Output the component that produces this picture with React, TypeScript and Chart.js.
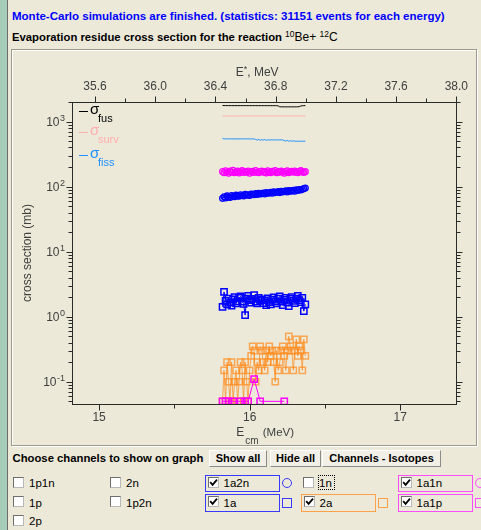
import React, { useEffect, useRef } from 'react';
import { Chart, registerables } from 'chart.js';

Chart.register(...registerables);

const FONT = '"Liberation Sans", Arial, Helvetica, sans-serif';
Chart.defaults.font.family = FONT;

// centre-of-mass energies of the simulated points (MeV)
const energies = [
  15.82, 15.83, 15.84, 15.85, 15.86, 15.87, 15.88, 15.89, 15.9, 15.91, 15.92, 15.93, 15.94, 15.95,
  15.96, 15.97, 15.98, 15.99, 16.0, 16.01, 16.02, 16.03, 16.04, 16.05, 16.06, 16.07, 16.08, 16.09,
  16.1, 16.11, 16.12, 16.13, 16.14, 16.15, 16.16, 16.17, 16.18, 16.19, 16.2, 16.21, 16.22, 16.23,
  16.24, 16.25, 16.26, 16.27, 16.28, 16.29, 16.3, 16.31, 16.32, 16.33, 16.34, 16.35, 16.36, 16.37,
];

// excitation energy E* = Ecm + Q (MeV)
const qValue = 20.627;

// total fusion, survival and fission cross sections (mb)
const sigmaFus = [
  1765, 1762, 1762, 1760, 1761, 1760, 1760, 1759, 1760, 1760, 1759, 1760, 1760, 1759,
  1760, 1759, 1760, 1759, 1760, 1759, 1759, 1760, 1758, 1759, 1758, 1759, 1758, 1758,
  1759, 1758, 1757, 1758, 1757, 1757, 1758, 1756, 1757, 1740, 1688, 1685, 1685, 1684,
  1685, 1684, 1685, 1684, 1684, 1685, 1684, 1684, 1685, 1700, 1735, 1752, 1758, 1760,
];
const sigmaSurv = [
  1226, 1210, 1224, 1214, 1225, 1224, 1212, 1225, 1208, 1224, 1218, 1225, 1224, 1225,
  1224, 1225, 1224, 1225, 1224, 1225, 1224, 1225, 1224, 1225, 1224, 1225, 1224, 1225,
  1224, 1225, 1224, 1225, 1224, 1225, 1224, 1225, 1224, 1225, 1224, 1225, 1224, 1225,
  1224, 1225, 1224, 1225, 1224, 1225, 1224, 1225, 1224, 1225, 1224, 1225, 1224, 1225,
];
const sigmaFiss = [
  552, 542, 542, 541, 542, 542, 541, 542, 542, 541, 542, 542, 541, 542,
  542, 541, 542, 542, 541, 542, 542, 541, 530, 520, 535, 515, 528, 518,
  530, 515, 525, 520, 523, 523, 522, 523, 523, 522, 523, 523, 522, 510,
  500, 515, 498, 508, 500, 505, 500, 499, 499, 499, 498, 499, 499, 498,
];

// evaporation channels (mb); null = no events in that channel
const alpha2n = [
  66, 70, 67, 72, 69, 68, 73, 71, 70, 74, 72, 71, 75, 73,
  72, 76, 74, 75, 73, 77, 76, 75, 78, 76, 79, 77, 78, 80,
  77, 81, 79, 80, 82, 79, 83, 81, 82, 84, 81, 85, 83, 84,
  86, 83, 87, 85, 86, 88, 85, 89, 87, 90, 89, 91, 93, 95,
];
const alpha1n = [
  171, 163, 175, 168, 161, 173, 166, 178, 164, 170, 173, 162, 169, 176,
  165, 171, 167, 174, 161, 169, 172, 165, 177, 168, 163, 171, 174, 166,
  170, 162, 175, 168, 164, 172, 169, 177, 163, 170, 166, 173, 168, 161,
  171, 175, 164, 169, 172, 166, 174, 167, 163, 171, 176, 168, 165, 170,
];
const alpha = [
  1.42, 2.4, 1.75, 1.55, 1.9, 1.65, 1.48, 1.85, 2.0, 1.6, 1.72, 1.95, 2.05, 1.7,
  1.58, 1.06, 1.9, 2.1, 1.8, 1.65, 1.88, 2.15, 1.7, 1.6, 1.95, 1.75, 1.85, 1.62,
  1.78, 1.5, 1.92, 1.68, 1.55, 1.83, 1.98, 1.72, 1.6, 1.9, 2.05, 1.7, 1.5, 1.82,
  1.95, 1.65, 1.45, 1.88, 2.0, 1.75, 1.62, 1.9, 2.1, 1.8, 1.68, 1.95, 1.22, 1.55,
];
const twoAlpha = [
  0.05, 0.15, 0.05, 0.2, 0.1, 0.05, 0.2, 0.05, 0.1, 0.15, 0.05, 0.1, 0.2, 0.15,
  0.05, 0.2, 0.1, 0.05, 0.15, 0.25, 0.35, 0.3, 0.1, 0.2, 0.15, 0.35, 0.3, 0.2,
  0.15, 0.3, 0.2, 0.35, 0.25, 0.3, 0.2, 0.1, 0.3, 0.15, 0.2, 0.3, 0.35, 0.25,
  0.15, 0.3, 0.5, 0.35, 0.3, 0.15, 0.3, 0.45, 0.25, 0.35, 0.3, 0.15, 0.45, 0.25,
];
const alpha1p = [
  0.05, null, 0.05, null, 0.05, null, null, 0.05, null, null, null, null, 0.05, null,
  null, 0.05, null, 0.05, null, null, null, 0.11, null, null, null, 0.05, null, null,
  null, null, null, null, null, null, null, null, null, null, null, null, null, 0.05,
  null, null, null, null, null, null, null, null, null, null, null, null, null, null,
];

// axis ticks
const bottomTicks = [15, 16, 17];
const bottomTickLabels = ['15', '16', '17'];
const bottomMinorTicks = [15.5, 16.5];
const topTicks = [35.6, 36.0, 36.4, 36.8, 37.2, 37.6, 38.0];
const topTickLabels = ['35.6', '36.0', '36.4', '36.8', '37.2', '37.6', '38.0'];
const topMinorTicks = [35.8, 36.2, 36.6, 37.0, 37.4, 37.8];
const yDecades = [-1, 0, 1, 2, 3];
const yTickBase = '10';
const yTickExponents = ['-1', '0', '1', '2', '3'];
const yMinorDecades = [-2, -1, 0, 1, 2, 3];
const yMinorMultipliers = [2, 3, 4, 5, 6, 7, 8, 9];

// sigma legend
const sigmaNames = ['fus', 'surv', 'fiss'];
const sigmaColors = ['#000000', '#FFAFAF', '#1E90FF'];

const BLUE = '#0000FF';
const MAGENTA = '#FF00FF';
const ORANGE = 'rgba(255,140,30,0.72)';
const AXIS = '#2a2a2a';
const LABEL = '#404040';

const pts = (vals: (number | null)[]) => energies.map((e, i) => ({ x: e, y: vals[i] }));

const decorPlugin = {
  id: 'decor',
  afterDraw(chart: any) {
    const { ctx, chartArea: a } = chart;
    const xs = chart.scales.x;
    const xt = chart.scales.xTop;
    const ys = chart.scales.y;
    const L = Math.round(a.left) + 0.5;
    const R = Math.round(a.right) + 0.5;
    const T = Math.round(a.top) + 0.5;
    const B = Math.round(a.bottom) + 0.5;
    const px = (s: any, v: number) => Math.round(s.getPixelForValue(v)) + 0.5;
    const seg = (x1: number, y1: number, x2: number, y2: number) => {
      ctx.beginPath();
      ctx.moveTo(x1, y1);
      ctx.lineTo(x2, y2);
      ctx.stroke();
    };
    ctx.save();
    ctx.strokeStyle = AXIS;
    ctx.lineWidth = 1;
    ctx.strokeRect(L, T, R - L, B - T);

    bottomTicks.forEach((v) => { const x = px(xs, v); seg(x, B, x, B + 6); });
    bottomMinorTicks.forEach((v) => { const x = px(xs, v); seg(x, B, x, B + 4); });
    topTicks.forEach((v) => { const x = px(xt, v); seg(x, T, x, T - 6); });
    topMinorTicks.forEach((v) => { const x = px(xt, v); seg(x, T, x, T - 4); });
    yDecades.forEach((n) => {
      const y = px(ys, Math.pow(10, n));
      seg(L - 6, y, L, y);
      seg(R, y, R + 6, y);
    });
    yMinorDecades.forEach((n) => {
      yMinorMultipliers.forEach((m) => {
        const v = m * Math.pow(10, n);
        if (v < ys.min || v > ys.max * 1.001) return;
        const y = px(ys, v);
        seg(L - 4, y, L, y);
        seg(R, y, R + 4, y);
      });
    });

    // decade labels 10^n
    ctx.fillStyle = LABEL;
    ctx.textBaseline = 'alphabetic';
    ctx.textAlign = 'right';
    yDecades.forEach((n, k) => {
      const y = ys.getPixelForValue(Math.pow(10, n));
      const xr = L - 7.5;
      ctx.font = `9px ${FONT}`;
      const ew = ctx.measureText(yTickExponents[k]).width;
      ctx.fillText(yTickExponents[k], xr, y - 0.5);
      ctx.font = `12px ${FONT}`;
      ctx.fillText(yTickBase, xr - ew - 0.5, y + 4.3);
    });

    // bottom axis title E_cm (MeV)
    ctx.textAlign = 'left';
    const cx = (a.left + a.right) / 2 + 1;
    const by = a.bottom + 32;
    ctx.font = `12px ${FONT}`;
    const wE = ctx.measureText('E').width;
    ctx.font = `10px ${FONT}`;
    const wCm = ctx.measureText('cm').width;
    ctx.font = `11.5px ${FONT}`;
    const wU = ctx.measureText(' (MeV)').width;
    let x0 = cx - (wE + wCm + 2 + wU) / 2;
    ctx.font = `12px ${FONT}`;
    ctx.fillText('E', x0, by);
    ctx.font = `10px ${FONT}`;
    ctx.fillText('cm', x0 + wE + 1, by + 8);
    ctx.font = `11.5px ${FONT}`;
    ctx.fillText(' (MeV)', x0 + wE + wCm + 2, by);

    // top axis title E*, MeV
    const tcx = (a.left + a.right) / 2 - 7;
    const ty = a.top - 26;
    ctx.font = `12px ${FONT}`;
    const wE2 = ctx.measureText('E').width;
    ctx.font = `9px ${FONT}`;
    const wStar = ctx.measureText('*').width;
    ctx.font = `12px ${FONT}`;
    const wRest = ctx.measureText(', MeV').width;
    x0 = tcx - (wE2 + wStar + wRest) / 2;
    ctx.fillText('E', x0, ty);
    ctx.font = `9px ${FONT}`;
    ctx.fillText('*', x0 + wE2, ty - 4);
    ctx.font = `12px ${FONT}`;
    ctx.fillText(', MeV', x0 + wE2 + wStar, ty);

    // sigma legend
    const lineYs = [9, 30, 53];
    sigmaNames.forEach((name, k) => {
      const ly = Math.round(a.top + lineYs[k]) + 0.5;
      ctx.strokeStyle = sigmaColors[k];
      ctx.fillStyle = sigmaColors[k];
      seg(a.left + 7, ly, a.left + 16, ly);
      ctx.font = `15px ${FONT}`;
      ctx.fillText('\u03C3', a.left + 18, ly + 2.5);
      ctx.font = `11px ${FONT}`;
      ctx.fillText(name, a.left + 26, ly + 10);
    });
    ctx.restore();
  },
};

function ChartPanel() {
  const ref = useRef<HTMLCanvasElement | null>(null);
  useEffect(() => {
    if (!ref.current) return;
    const hollow = 'rgba(0,0,0,0)';
    const chart = new Chart(ref.current, {
      type: 'line',
      data: {
        datasets: [
          { label: 'sigma fus', data: pts(sigmaFus), borderColor: sigmaColors[0], borderWidth: 1, pointRadius: 0 },
          { label: 'sigma surv', data: pts(sigmaSurv), borderColor: sigmaColors[1], borderWidth: 1, pointRadius: 0 },
          { label: 'sigma fiss', data: pts(sigmaFiss), borderColor: sigmaColors[2], borderWidth: 1, pointRadius: 0 },
          {
            label: '1a1n', data: pts(alpha1n), borderColor: MAGENTA, borderWidth: 1,
            pointStyle: 'circle', pointRadius: 2.9, pointBorderWidth: 1.3, pointBackgroundColor: hollow,
          },
          {
            label: '1a2n', data: pts(alpha2n), borderColor: BLUE, borderWidth: 1,
            pointStyle: 'circle', pointRadius: 2.9, pointBorderWidth: 1.3, pointBackgroundColor: hollow,
          },
          {
            label: '1a', data: pts(alpha), borderColor: BLUE, borderWidth: 1,
            pointStyle: 'rect', pointRadius: 4.4, pointBorderWidth: 1.5, pointBackgroundColor: hollow,
          },
          {
            label: '1a1p', data: pts(alpha1p), borderColor: MAGENTA, borderWidth: 1, spanGaps: true,
            pointStyle: 'rect', pointRadius: 4.4, pointBorderWidth: 1.5, pointBackgroundColor: hollow,
          },
          {
            label: '2a', data: pts(twoAlpha), borderColor: ORANGE, borderWidth: 1, spanGaps: true,
            pointStyle: 'rect', pointRadius: 4.4, pointBorderWidth: 1.5, pointBackgroundColor: hollow,
          },
        ],
      },
      options: {
        animation: false,
        responsive: false,
        devicePixelRatio: 1,
        events: [],
        plugins: { legend: { display: false }, tooltip: { enabled: false } },
        layout: { padding: { left: 0, right: 10, top: 0, bottom: 0 } },
        scales: {
          x: {
            type: 'linear',
            position: 'bottom',
            min: 14.82,
            max: 38.0 - qValue,
            grid: { display: false, drawTicks: false },
            border: { display: false },
            afterBuildTicks: (s: any) => { s.ticks = bottomTicks.map((v) => ({ value: v })); },
            ticks: {
              callback: (_v: any, i: number) => bottomTickLabels[i],
              padding: 6,
              color: LABEL,
              font: { size: 12 },
              maxRotation: 0,
              autoSkip: false,
            },
            afterFit: (s: any) => { s.height = 40; },
          },
          xTop: {
            type: 'linear',
            axis: 'x',
            position: 'top',
            min: 14.82 + qValue,
            max: 38.0,
            grid: { display: false, drawTicks: false },
            border: { display: false },
            afterBuildTicks: (s: any) => { s.ticks = topTicks.map((v) => ({ value: v })); },
            ticks: {
              callback: (_v: any, i: number) => topTickLabels[i],
              padding: 8,
              color: LABEL,
              font: { size: 12 },
              maxRotation: 0,
              autoSkip: false,
            },
            afterFit: (s: any) => { s.height = 51; },
          },
          y: {
            type: 'logarithmic',
            position: 'left',
            min: 0.0455,
            max: 2000,
            grid: { display: false, drawTicks: false },
            border: { display: false },
            ticks: { display: false },
            title: {
              display: true,
              text: 'cross section (mb)',
              color: LABEL,
              font: { size: 12 },
              padding: { top: 7.5, bottom: 0 },
            },
            afterFit: (s: any) => { s.width = 59; },
          },
        },
      },
      plugins: [decorPlugin],
    } as any);
    return () => chart.destroy();
  }, []);
  return (
    <canvas
      ref={ref}
      width={463}
      height={393}
      style={{ position: 'absolute', left: 13, top: 51, width: 463, height: 393 }}
    />
  );
}

// channel selector below the graph
const channelRows = [
  ['1p1n', '2n', '1a2n', '1n', '1a1n'],
  ['1p', '1p2n', '1a', '2a', '1a1p'],
  ['2p'],
];
const shownChannels: Record<string, { color: string; marker: 'circle' | 'square' }> = {
  '1a2n': { color: '#3A3AFF', marker: 'circle' },
  '1a': { color: '#3A3AFF', marker: 'square' },
  '2a': { color: '#FFA04A', marker: 'square' },
  '1a1n': { color: '#FF4CFF', marker: 'circle' },
  '1a1p': { color: '#FF4CFF', marker: 'square' },
};
const colBoxX = [13, 110, 205, 301, 398];
const rowTop = [474.5, 494];

function CheckBox({ x, y, checked }: { x: number; y: number; checked: boolean }) {
  return (
    <div
      style={{
        position: 'absolute', left: x, top: y, width: 11, height: 11, boxSizing: 'border-box',
        background: '#fff', borderTop: '1px solid #6e6e6e', borderLeft: '1px solid #6e6e6e',
        borderRight: '1px solid #b8b8b8', borderBottom: '1px solid #b8b8b8',
      }}
    >
      {checked && (
        <svg width={9} height={9} style={{ position: 'absolute', left: 0, top: 0 }}>
          <path d="M1.2 4.2 L3.6 6.8 L8 1.6" stroke="#000" strokeWidth={1.8} fill="none" />
        </svg>
      )}
    </div>
  );
}

function Channels() {
  const items: React.ReactNode[] = [];
  channelRows.forEach((row, r) => {
    row.forEach((name, c) => {
      const shown = shownChannels[name];
      const top = r < 2 ? rowTop[r] : 513;
      const boxLeft = colBoxX[c];
      if (shown) {
        items.push(
          <div key={name + 'box'} style={{
            position: 'absolute', left: boxLeft, top, width: 75, height: 17.5, boxSizing: 'border-box',
            border: `1.5px solid ${shown.color}`,
          }} />,
        );
        const mx = boxLeft + 77;
        items.push(
          <div key={name + 'mk'} style={{
            position: 'absolute', left: mx, top: top + 3.5, width: 10, height: 10, boxSizing: 'border-box',
            border: `1.3px solid ${shown.color}`, borderRadius: shown.marker === 'circle' ? '50%' : 0,
          }} />,
        );
      }
      const cbX = shown ? boxLeft + 2.5 : boxLeft + (c === 3 ? 2 : 0);
      const cbY = r === 0 ? 477 : r === 1 ? 496 : 515;
      items.push(<CheckBox key={name + 'cb'} x={cbX} y={cbY} checked={!!shown} />);
      const labelX = cbX + 16;
      const labelTop = r === 0 ? 476.3 : r === 1 ? 495.8 : 513.6;
      items.push(
        <div key={name + 'lb'} style={{
          position: 'absolute', left: labelX, top: labelTop, font: `11.5px ${FONT}`, lineHeight: '14px',
          color: '#000', whiteSpace: 'nowrap',
        }}>{name}</div>,
      );
      if (name === '1n') {
        items.push(
          <div key="focus" style={{
            position: 'absolute', left: labelX - 1.5, top: 475, width: 17, height: 14.5, boxSizing: 'border-box',
            border: '1px dotted #000',
          }} />,
        );
      }
    });
  });
  return <>{items}</>;
}

const buttons = [
  { text: 'Show all', left: 209, width: 58 },
  { text: 'Hide all', left: 270, width: 51 },
  { text: 'Channels - Isotopes', left: 322, width: 119 },
];

const supStyle: React.CSSProperties = { fontSize: 8.5, verticalAlign: 4, lineHeight: 0 };

export default function App() {
  return (
    <div style={{
      position: 'absolute', left: 0, top: 0, width: 481, height: 530, overflow: 'hidden',
      background: '#ECE9D8', fontFamily: FONT,
    }}>
      <div style={{ position: 'absolute', left: 0, top: 0, width: 7, height: 530, background: '#A6CDB9' }} />
      <div style={{ position: 'absolute', left: 7, top: 0, width: 1, height: 530, background: '#6d6d6d' }} />

      <div style={{
        position: 'absolute', left: 12, top: 7.5, font: `bold 11.5px ${FONT}`, lineHeight: '16px',
        color: '#0000FF', whiteSpace: 'nowrap',
      }}>
        Monte-Carlo simulations are finished. (statistics: 31151 events for each energy)
      </div>
      <div style={{
        position: 'absolute', left: 12, top: 29, font: `bold 11.3px ${FONT}`, lineHeight: '16px',
        color: '#000', whiteSpace: 'nowrap',
      }}>
        Evaporation residue cross section for the reaction{'  '}
        <span style={{ fontWeight: 'normal', fontSize: 12 }}>
          <sup style={supStyle}>10</sup>Be+ <sup style={supStyle}>12</sup>C
        </span>
      </div>

      <div style={{
        position: 'absolute', left: 11, top: 49, width: 466, height: 397, boxSizing: 'border-box',
        border: '1px solid #9d9a8c', boxShadow: 'inset 1px 1px 0 #fff, 1px 1px 0 #fff',
      }} />
      <ChartPanel />

      <div style={{
        position: 'absolute', left: 12.5, top: 450.4, font: `bold 11.3px ${FONT}`, lineHeight: '16px',
        color: '#000', whiteSpace: 'nowrap',
      }}>
        Choose channels to show on graph
      </div>
      {buttons.map((b) => (
        <div key={b.text} style={{
          position: 'absolute', left: b.left, top: 450, width: b.width, height: 17, boxSizing: 'border-box',
          background: '#F1EFE6', borderTop: '1px solid #fff', borderLeft: '1px solid #fff',
          borderRight: '1px solid #8a8a8a', borderBottom: '1px solid #8a8a8a',
          font: `bold 11px ${FONT}`, lineHeight: '15px', textAlign: 'center', color: '#000', whiteSpace: 'nowrap',
        }}>{b.text}</div>
      ))}
      <Channels />
    </div>
  );
}
